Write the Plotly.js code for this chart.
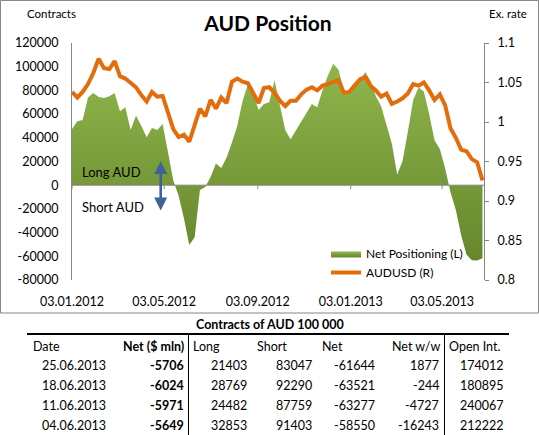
<!DOCTYPE html>
<html>
<head>
<meta charset="utf-8">
<script src="https://cdn.plot.ly/plotly-3.0.1.min.js"></script>
<style>html,body{margin:0;padding:0;background:#fff;}#chart{width:539px;height:435px;}</style>
</head>
<body>
<div id="chart"></div>
<script>
// ---- data ----
var dates = [
 '2012-01-03','2012-01-10','2012-01-17','2012-01-24','2012-01-31','2012-02-07','2012-02-14','2012-02-21','2012-02-28',
 '2012-03-06','2012-03-13','2012-03-20','2012-03-27','2012-04-03','2012-04-10','2012-04-17','2012-04-24',
 '2012-05-01','2012-05-08','2012-05-15','2012-05-22','2012-05-29','2012-06-05','2012-06-12','2012-06-19','2012-06-26',
 '2012-07-03','2012-07-10','2012-07-17','2012-07-24','2012-07-31','2012-08-07','2012-08-14','2012-08-21','2012-08-28',
 '2012-09-04','2012-09-11','2012-09-18','2012-09-25','2012-10-02','2012-10-09','2012-10-16','2012-10-23','2012-10-30',
 '2012-11-06','2012-11-13','2012-11-20','2012-11-27','2012-12-04','2012-12-11','2012-12-18','2012-12-25',
 '2013-01-01','2013-01-08','2013-01-15','2013-01-22','2013-01-29','2013-02-05','2013-02-12','2013-02-19','2013-02-26',
 '2013-03-05','2013-03-12','2013-03-19','2013-03-26','2013-04-02','2013-04-09','2013-04-16','2013-04-23','2013-04-30',
 '2013-05-07','2013-05-14','2013-05-21','2013-05-28','2013-06-04','2013-06-11','2013-06-18','2013-06-25'
];
var netPositioning = [
 47400,54000,55000,74000,77800,74500,73500,75000,77800,
 62300,65700,46600,58600,50200,40400,48300,46600,
 51600,28000,4000,-9000,-28000,-50500,-44000,-4000,-1500,
 7000,18400,14500,23300,36000,50000,71000,85400,77000,
 63500,68500,70000,88500,66000,46500,38700,46000,54000,
 61000,68500,65700,80300,92500,102500,97500,79700,
 78300,82500,88000,95500,88000,75000,66600,51000,35000,
 9000,20300,45200,72000,82500,79000,60000,38000,30500,
 14000,-6000,-21000,-42307,-58550,-63277,-63521,-61644
];
var audusd = [
 1.038,1.031,1.038,1.048,1.062,1.080,1.068,1.067,1.077,
 1.058,1.055,1.049,1.044,1.034,1.026,1.038,1.032,
 1.033,1.012,0.991,0.981,0.984,0.975,0.996,1.017,1.007,
 1.028,1.017,1.031,1.024,1.051,1.055,1.051,1.049,1.036,
 1.024,1.043,1.044,1.037,1.027,1.020,1.027,1.027,1.035,
 1.041,1.044,1.040,1.046,1.048,1.050,1.053,1.037,
 1.038,1.046,1.054,1.057,1.046,1.040,1.032,1.036,1.023,
 1.026,1.030,1.036,1.048,1.046,1.050,1.040,1.028,1.035,
 1.021,0.992,0.980,0.965,0.963,0.953,0.949,0.926
];
var xTickVals = ['2012-01-03','2012-05-03','2012-09-03','2013-01-03','2013-05-03'];
var xTickText = ['03.01.2012','03.05.2012','03.09.2012','03.01.2013','03.05.2013'];
var yTickVals = [-80000,-60000,-40000,-20000,0,20000,40000,60000,80000,100000,120000];
var yTickText = ['-80000','-60000','-40000','-20000','0','20000','40000','60000','80000','100000','120000'];
var y2TickVals = [0.8,0.85,0.9,0.95,1,1.05,1.1];
var y2TickText = ['0.8','0.85','0.9','0.95','1','1.05','1.1'];

// table data
var tblTitle = 'Contracts of AUD 100 000';
var tblHeaders = ['Date','Net ($ mln)','Long','Short','Net','Net w/w','Open Int.'];
var tblDate = ['25.06.2013','18.06.2013','11.06.2013','04.06.2013'];
var tblNetMln = ['-5706','-6024','-5971','-5649'];
var tblLong = ['21403','28769','24482','32853'];
var tblShort = ['83047','92290','87759','91403'];
var tblNet = ['-61644','-63521','-63277','-58550'];
var tblNetWW = ['1877','-244','-4727','-16243'];
var tblOpenInt = ['174012','180895','240067','212222'];

// ---- layout helpers ----
var W = 539, H = 435, ML = 72, MR = 55, MT = 43, MB = 155;
var PW = W - ML - MR, PH = H - MT - MB;
function px(x){ return (x - ML) / PW; }
function py(y){ return (H - MB - y) / PH; }
var FONT = 'Lato, "Open Sans", sans-serif';
var GRAY = '#868686';

var traces = [
 {
  x: dates, y: netPositioning, type: 'scatter', mode: 'lines',
  name: 'Net Positioning (L)', fill: 'tozeroy',
  line: {width: 0, color: '#7FA33E'},
  fillcolor: '#7FA33E',
  fillgradient: {type: 'vertical', colorscale: [[0, '#66862C'], [1, '#8FB64C']]},
  yaxis: 'y', hoverinfo: 'skip'
 },
 {
  x: dates, y: audusd, type: 'scatter', mode: 'lines',
  name: 'AUDUSD (R)',
  line: {width: 4, color: '#E46C0A'},
  yaxis: 'y2', hoverinfo: 'skip'
 }
];

var ann = [];
function txt(t, x, y, anchor, opts){
  opts = opts || {};
  ann.push({text: t, xref: 'paper', yref: 'paper', x: px(x), y: py(y),
    xanchor: anchor, yanchor: 'middle', showarrow: false,
    font: {family: FONT, size: opts.size || 12.5, color: '#000', weight: opts.bold ? 'bold' : 'normal'}});
}
txt('Contracts', 25, 14, 'left', {size: 11.5});
txt('Ex. rate', 487, 14, 'left', {size: 11.5});
txt('Long AUD', 80, 172, 'left', {size: 13});
txt('Short AUD', 80, 207, 'left', {size: 13});
ann.push({text: '', xref: 'paper', yref: 'paper', x: px(160.7), y: py(161),
  ax: 0, ay: 51, showarrow: true, arrowside: 'end+start', arrowhead: 2,
  arrowsize: 1, arrowwidth: 2.6, arrowcolor: '#3F6398', standoff: 0, startstandoff: 0});

// table
txt('<b>' + tblTitle + '</b>', 270, 324, 'center', {size: 12.5});
txt(tblHeaders[0], 31, 346, 'left');
txt('<b>' + tblHeaders[1] + '</b>', 186, 346, 'right');
txt(tblHeaders[2], 191, 346, 'left');
txt(tblHeaders[3], 255, 346, 'left');
txt(tblHeaders[4], 320, 346, 'left');
txt(tblHeaders[5], 442, 346, 'right');
txt(tblHeaders[6], 447, 346, 'left');
var rowY = [365.5, 385.5, 405.5, 425.5];
for (var i = 0; i < tblDate.length; i++) {
  txt(tblDate[i], 108, rowY[i], 'right');
  txt('<b>' + tblNetMln[i] + '</b>', 186, rowY[i], 'right');
  txt(tblLong[i], 249, rowY[i], 'right');
  txt(tblShort[i], 314, rowY[i], 'right');
  txt(tblNet[i], 377, rowY[i], 'right');
  txt(tblNetWW[i], 441, rowY[i], 'right');
  txt(tblOpenInt[i], 506, rowY[i], 'right');
}

var shapes = [
  // chart frame
  {type: 'rect', xref: 'paper', yref: 'paper', x0: px(0.5), x1: px(538.5), y0: py(0.5), y1: py(313),
   line: {color: GRAY, width: 1}, fillcolor: 'rgba(0,0,0,0)', layer: 'below'},
  // zero line (horizontal category axis)
  {type: 'line', xref: 'paper', yref: 'y', x0: 0, x1: 1, y0: 0, y1: 0,
   line: {color: GRAY, width: 1}, layer: 'above'},
  // table lines
  {type: 'line', xref: 'paper', yref: 'paper', x0: px(27), x1: px(509), y0: py(334), y1: py(334),
   line: {color: '#000', width: 2}},
  {type: 'line', xref: 'paper', yref: 'paper', x0: px(188.5), x1: px(188.5), y0: py(333), y1: py(436),
   line: {color: '#000', width: 1}},
  {type: 'line', xref: 'paper', yref: 'paper', x0: px(444.5), x1: px(444.5), y0: py(333), y1: py(436),
   line: {color: '#000', width: 1}}
];
// tick marks on zero line
xTickVals.forEach(function(d){
  shapes.push({type: 'line', xref: 'x', yref: 'y', ysizemode: 'pixel', yanchor: 0,
    x0: d, x1: d, y0: 0, y1: -4, line: {color: GRAY, width: 1}, layer: 'above'});
});

var layout = {
  width: W, height: H,
  margin: {l: ML, r: MR, t: MT, b: MB, pad: 0},
  paper_bgcolor: '#fff', plot_bgcolor: 'rgba(0,0,0,0)',
  font: {family: FONT, size: 12, color: '#000'},
  title: {text: '<b>AUD Position</b>', x: 268 / W, xanchor: 'center', y: 1 - 24 / H, yanchor: 'middle',
    font: {family: FONT, size: 21, color: '#000'}},
  showlegend: true,
  legend: {x: px(326), y: py(239), xanchor: 'left', yanchor: 'top', bgcolor: 'rgba(0,0,0,0)',
    font: {family: FONT, size: 12, color: '#000'}, itemwidth: 30, tracegroupgap: 0},
  xaxis: {type: 'date', range: ['2012-01-03', '2013-06-27'], tickvals: xTickVals, ticktext: xTickText,
    showgrid: false, zeroline: false, showline: false, ticks: '', ticklabelstandoff: 12,
    tickfont: {family: FONT, size: 12.5, color: '#000'}, fixedrange: true},
  yaxis: {range: [-80000, 120000], tickvals: yTickVals, ticktext: yTickText,
    showgrid: false, zeroline: false, showline: true, linecolor: GRAY, linewidth: 1, ticks: '',
    ticklabelstandoff: 10, tickfont: {family: FONT, size: 12.5, color: '#000'}, fixedrange: true},
  yaxis2: {range: [0.8, 1.1], tickvals: y2TickVals, ticktext: y2TickText, overlaying: 'y', side: 'right',
    showgrid: false, zeroline: false, showline: true, linecolor: GRAY, linewidth: 1,
    ticks: 'outside', ticklen: 4, tickcolor: GRAY, ticklabelstandoff: 6,
    tickfont: {family: FONT, size: 12.5, color: '#000'}, fixedrange: true},
  annotations: ann,
  shapes: shapes
};

Plotly.newPlot('chart', traces, layout, {staticPlot: true, displayModeBar: false});
</script>
</body>
</html>
